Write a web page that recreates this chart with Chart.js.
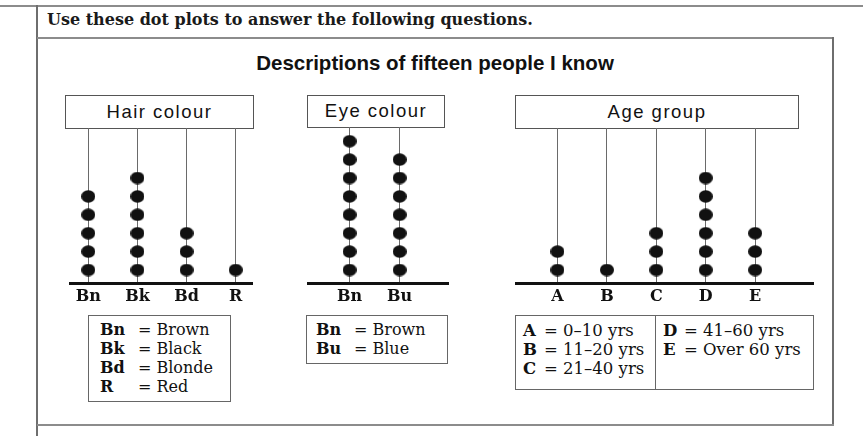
<!DOCTYPE html>
<html>
<head>
<meta charset="utf-8">
<script src="https://cdn.jsdelivr.net/npm/chart.js@4"></script>
<style>
  html, body { margin: 0; padding: 0; background: #fff; }
  body { width: 863px; height: 436px; position: relative; overflow: hidden; }
  .abs { position: absolute; }
  .hline { position: absolute; height: 0; border-top: 2px solid #8c8c8c; }
  .vline { position: absolute; width: 0; border-left: 2px solid #6e6e6e; }
  .intro { left: 47px; top: 10px; font: bold 16px "DejaVu Serif", serif; color: #1a1a1a; white-space: nowrap; }
  .title { left: 0; width: 870px; top: 51px; text-align: center; font: bold 20.5px "Liberation Sans", Arial, sans-serif; color: #111; }
  .head { position: absolute; box-sizing: border-box; border: 1px solid #555; background: #fff;
          font: 18.5px "Liberation Sans", Arial, sans-serif; letter-spacing: 1.5px; color: #111; text-align: center; }
  .legend { position: absolute; box-sizing: border-box; border: 1px solid #666;
            font: 16px "DejaVu Serif", serif; color: #111; line-height: 19px; }
  .legend b { display: inline-block; width: 38px; }
  canvas { position: absolute; }
</style>
</head>
<body>
<div class="hline" style="left:0;top:5px;width:863px"></div>
<div class="vline" style="left:36px;top:5px;height:431px"></div>
<div class="abs intro">Use these dot plots to answer the following questions.</div>
<div class="hline" style="left:37px;top:37px;width:797px"></div>
<div class="vline" style="left:832px;top:37px;height:388px"></div>
<div class="hline" style="left:37px;top:424px;width:797px"></div>
<div class="abs title">Descriptions of fifteen people I know</div>

<div class="head" style="left:65px;top:95px;width:189px;height:34px;line-height:31px">Hair colour</div>
<div class="head" style="left:307px;top:95px;width:138px;height:33px;line-height:29px">Eye colour</div>
<div class="head" style="left:515px;top:95px;width:284px;height:34px;line-height:31px">Age group</div>

<canvas id="hair" style="left:69px;top:128px" width="184" height="179"></canvas>
<canvas id="eye" style="left:307px;top:127px" width="142" height="180"></canvas>
<canvas id="age" style="left:515px;top:128px" width="299" height="179"></canvas>

<div class="legend" style="left:88px;top:315px;width:143px;height:87px;padding:4px 0 0 11px">
  <div><b>Bn</b>= Brown</div>
  <div><b>Bk</b>= Black</div>
  <div><b>Bd</b>= Blonde</div>
  <div><b>R</b>= Red</div>
</div>
<div class="legend" style="left:306px;top:315px;width:142px;height:49px;padding:4px 0 0 9px">
  <div><b>Bn</b>= Brown</div>
  <div><b>Bu</b>= Blue</div>
</div>
<div class="legend" style="left:515px;top:315px;width:299px;height:75px;font-size:16.5px;line-height:19px">
  <div style="position:absolute;left:139px;top:0;height:73px;border-left:1px solid #666"></div>
  <div style="position:absolute;left:7px;top:5px;white-space:nowrap">
    <div><b style="width:21px">A</b>= 0–10 yrs</div>
    <div><b style="width:21px">B</b>= 11–20 yrs</div>
    <div><b style="width:21px">C</b>= 21–40 yrs</div>
  </div>
  <div style="position:absolute;left:147px;top:5px;white-space:nowrap">
    <div><b style="width:21px">D</b>= 41–60 yrs</div>
    <div><b style="width:21px">E</b>= Over 60 yrs</div>
  </div>
</div>

<script>
const hairLabels = ['Bn', 'Bk', 'Bd', 'R']
const hairCounts = [5, 6, 3, 1]

const eyeLabels = ['Bn', 'Bu']
const eyeCounts = [8, 7]

const ageLabels = ['A', 'B', 'C', 'D', 'E']
const ageCounts = [2, 1, 3, 6, 3]

// one black dot, a little wider than tall, like the print
const dot = document.createElement('canvas')
dot.width = 14
dot.height = 13
const dctx = dot.getContext('2d')
dctx.fillStyle = '#111'
dctx.beginPath()
dctx.ellipse(7, 6.5, 7, 6.2, 0, 0, Math.PI * 2)
dctx.fill()

const DOT_GAP = 18.4   // px between stacked dots
const FIRST_DOT = 13   // px from baseline to first dot

function dotPoints(counts) {
  const pts = []
  counts.forEach((n, i) => {
    for (let k = 1; k <= n; k++) pts.push({ x: i + 1, y: k })
  })
  return pts
}

function initDotPlot(id, labels, counts, xMin, xMax) {
  const ctx = document.getElementById(id)
  const plotH = ctx.height - 24
  const yMin = 1 - FIRST_DOT / DOT_GAP
  const yMax = yMin + plotH / DOT_GAP

  new Chart(ctx, {
    type: 'scatter',
    data: {
      datasets: [{
        data: dotPoints(counts),
        pointStyle: dot,
        pointRadius: 7,
        pointHoverRadius: 7
      }]
    },
    options: {
      responsive: false,
      animation: false,
      events: [],
      layout: { padding: 0, autoPadding: false },
      plugins: {
        legend: { display: false },
        tooltip: { enabled: false }
      },
      scales: {
        x: {
          type: 'linear',
          min: xMin,
          max: xMax,
          afterFit: (s) => { s.height = 24 },
          border: { color: '#111', width: 3 },
          grid: { color: '#6a6a6a', lineWidth: 1, drawTicks: false },
          ticks: {
            stepSize: 1,
            includeBounds: false,
            padding: 4,
            color: '#111',
            font: { family: 'DejaVu Serif', size: 16, weight: 'bold' },
            callback: (v) => Number.isInteger(v) ? labels[v - 1] : ''
          }
        },
        y: {
          display: false,
          min: yMin,
          max: yMax
        }
      }
    }
  })
}

initDotPlot('hair', hairLabels, hairCounts, 0.607, 4.352)
initDotPlot('eye', eyeLabels, eyeCounts, 0.149, 2.986)
initDotPlot('age', ageLabels, ageCounts, 0.141, 6.19)
</script>
</body>
</html>
